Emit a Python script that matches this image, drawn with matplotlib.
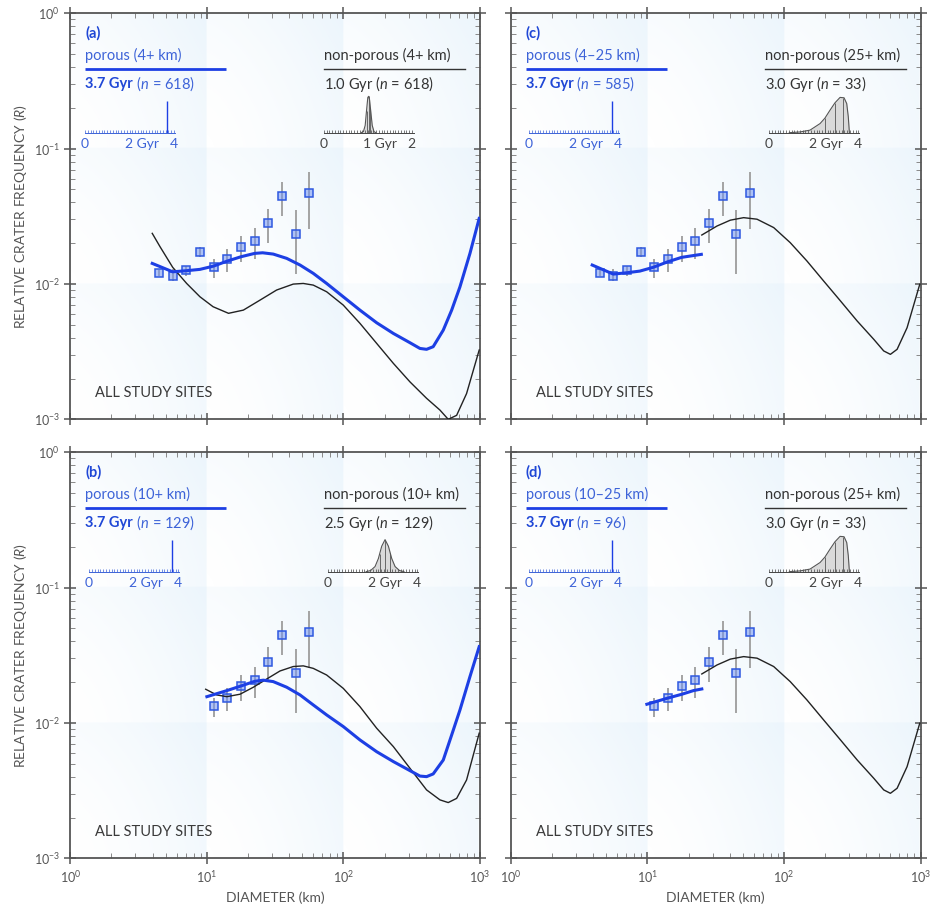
import numpy as np
import matplotlib.pyplot as plt
from matplotlib.ticker import MultipleLocator, NullFormatter

plt.rcParams['font.family'] = ['Lato', 'DejaVu Sans']
plt.rcParams['mathtext.fontset'] = 'custom'
plt.rcParams['mathtext.rm'] = 'Lato'
plt.rcParams['mathtext.it'] = 'Lato:italic'
plt.rcParams['mathtext.bf'] = 'Lato:bold'

# observed R values (all study sites), 0.1-decade bins
diam_bins = [4.47, 5.62, 7.08, 8.91, 11.2, 14.1, 17.8, 22.4, 28.2, 35.5, 44.7, 56.2]
r_obs = [0.0120, 0.0114, 0.0127, 0.0172, 0.0133, 0.0153, 0.0187, 0.0206, 0.0281, 0.0446, 0.0235, 0.0468]
r_lo = [0.0115, 0.0105, 0.0114, 0.0157, 0.0110, 0.0123, 0.0146, 0.0152, 0.0202, 0.0318, 0.0118, 0.0256]
r_hi = [0.0126, 0.0128, 0.0136, 0.0189, 0.0154, 0.0180, 0.0226, 0.0261, 0.0361, 0.0570, 0.0350, 0.0671]

# model curves
a_blue_d = [3.98, 5.62, 7.07, 8.9, 11.2, 14.1, 17.8, 22.4, 25.6, 30.6, 38.4, 48.1, 60.1, 75.3, 99.7, 132, 175,
            232, 307, 363, 406, 454, 538, 620, 713, 844, 986]
a_blue_r = [0.01419, 0.0123, 0.01253, 0.01282, 0.01356, 0.01476, 0.0159, 0.01683, 0.0170, 0.01663, 0.01546,
            0.0138, 0.01198, 0.01009, 0.00804, 0.00641, 0.00517, 0.00431, 0.00368, 0.00334, 0.00329, 0.00344,
            0.00456, 0.00641, 0.00953, 0.01683, 0.0305]
a_black_d = [3.98, 4.54, 5.62, 7.11, 8.9, 11.1, 14.4, 18.5, 24.5, 32.4, 42.9, 50.8, 60.1, 75.3, 99.7, 132, 175,
             232, 307, 406, 509, 585, 674, 797, 986]
a_black_r = [0.02366, 0.01884, 0.01327, 0.01009, 0.00804, 0.00679, 0.00607, 0.00641, 0.0076, 0.00902, 0.00998,
             0.01009, 0.00981, 0.00876, 0.00698, 0.00512, 0.00364, 0.00259, 0.00189, 0.00143, 0.00117, 0.00100,
             0.00107, 0.00155, 0.00325]

b_blue_d = [10.0, 14.0, 17.8, 22.4, 25.9, 30.6, 38.4, 48.1, 60.1, 75.3, 99.7, 132, 175, 232, 307, 363, 406,
            454, 538, 620, 713, 844, 986]
b_blue_r = [0.01563, 0.01733, 0.01876, 0.0203, 0.0207, 0.0202, 0.01836, 0.0161, 0.01358, 0.01146, 0.0094,
            0.00749, 0.00613, 0.00518, 0.00444, 0.00405, 0.00401, 0.0042, 0.00532, 0.00815, 0.01247, 0.022, 0.0366]
b_black_d = [9.8, 11.8, 14.0, 17.5, 21.9, 27.4, 34.3, 42.9, 50.8, 60.1, 75.3, 99.7, 132, 175, 232, 307, 406,
             509, 585, 674, 797, 986]
b_black_r = [0.01774, 0.0161, 0.01563, 0.0163, 0.01836, 0.0211, 0.0242, 0.0261, 0.0264, 0.0253, 0.0226, 0.018,
             0.0132, 0.00914, 0.00668, 0.00462, 0.0032, 0.0027, 0.00258, 0.00277, 0.00379, 0.0084]

c_blue_d = [3.94, 5.62, 7.06, 8.8, 11.0, 14.1, 17.8, 24.8]
c_blue_r = [0.0138, 0.01183, 0.0121, 0.01245, 0.01327, 0.01459, 0.01573, 0.01655]
d_blue_d = [9.9, 13.9, 17.9, 21.7, 25.0]
d_blue_r = [0.01374, 0.0152, 0.0163, 0.01733, 0.01782]
cd_black_d = [25.0, 32.3, 40.4, 50.6, 63.4, 84, 111, 147, 195, 259, 343, 454, 537, 601, 673, 796, 986]
cd_black_r = [0.0230, 0.0268, 0.0296, 0.0309, 0.0301, 0.0261, 0.0202, 0.0148, 0.01052, 0.00749, 0.00533,
              0.0039, 0.0032, 0.00302, 0.00329, 0.00475, 0.00995]

# age distributions (Gyr, relative height)
age_a_x = [0.85, 0.90, 0.94, 0.97, 1.00, 1.02, 1.04, 1.07, 1.10, 1.14, 1.18]
age_a_y = [0.0, 0.03, 0.2, 0.6, 0.97, 1.0, 0.9, 0.55, 0.2, 0.03, 0.0]
age_a_lines = [0.97, 1.02, 1.06]
age_b_x = [1.7, 1.9, 2.1, 2.25, 2.4, 2.55, 2.7, 2.85, 3.0, 3.2, 3.4]
age_b_y = [0.0, 0.03, 0.14, 0.36, 0.7, 0.88, 0.7, 0.36, 0.14, 0.03, 0.0]
age_b_lines = [2.31, 2.55, 2.78]
age_cd_x = [0.9, 1.38, 1.83, 2.28, 2.50, 2.73, 2.95, 3.18, 3.36, 3.48, 3.55, 3.60]
age_cd_y = [0.0, 0.02, 0.07, 0.25, 0.40, 0.62, 0.82, 0.97, 0.96, 0.80, 0.44, 0.0]
age_cd_lines = [2.50, 2.95, 3.32]
porous_age = 3.7

BLUE = '#1d3fe4'
BLUE_TXT = '#3d63d8'
BLUE_DARK = '#1f47d6'
GRAY = '#555555'

fig = plt.figure(figsize=(9.35, 9.09), dpi=100)
W, H = 0.4382, 0.4467
positions = {'a': [0.0752, 0.5387], 'c': [0.5464, 0.5387], 'b': [0.0752, 0.0558], 'd': [0.5464, 0.0558]}

panels = [
    dict(key='a', porous='porous (4+ km)', pn='618', nonp='non-porous (4+ km)', nage='1.0 Gyr', nn='618',
         blue=(a_blue_d, a_blue_r), black=(a_black_d, a_black_r), first=0,
         p0=14.7, n0=253.5, nmax=2, nlabels=('0', '1 Gyr', '2'), dist=(age_a_x, age_a_y, age_a_lines)),
    dict(key='c', porous='porous (4–25 km)', pn='585', nonp='non-porous (25+ km)', nage='3.0 Gyr', nn='33',
         blue=(c_blue_d, c_blue_r), black=(cd_black_d, cd_black_r), first=0,
         p0=18.4, n0=258.4, nmax=4, nlabels=('0', '2 Gyr', '4'), dist=(age_cd_x, age_cd_y, age_cd_lines)),
    dict(key='b', porous='porous (10+ km)', pn='129', nonp='non-porous (10+ km)', nage='2.5 Gyr', nn='129',
         blue=(b_blue_d, b_blue_r), black=(b_black_d, b_black_r), first=4,
         p0=19.0, n0=258.0, nmax=4, nlabels=('0', '2 Gyr', '4'), dist=(age_b_x, age_b_y, age_b_lines)),
    dict(key='d', porous='porous (10–25 km)', pn='96', nonp='non-porous (25+ km)', nage='3.0 Gyr', nn='33',
         blue=(d_blue_d, d_blue_r), black=(cd_black_d, cd_black_r), first=4,
         p0=18.4, n0=258.4, nmax=4, nlabels=('0', '2 Gyr', '4'), dist=(age_cd_x, age_cd_y, age_cd_lines)),
]

AX_W_PX, AX_H_PX = 409.7, 406.0


def shade(rect):
    # faint blue tint that brightens toward the right/top of every decade cell
    bg = fig.add_axes(rect, zorder=0)
    bg.set_axis_off()
    n = 300
    f = (np.linspace(0, 1, n) * 3) % 1
    U, V = np.meshgrid(f, f)
    a = 0.38 * np.clip(0.65 * U ** 1.4 + 0.35 * V ** 1.5, 0, 1)
    img = np.zeros((n, n, 4))
    img[..., 0], img[..., 1], img[..., 2] = 0.80, 0.90, 0.97
    img[..., 3] = a
    bg.imshow(img, extent=(0, 1, 0, 1), origin='lower', aspect='auto', interpolation='bilinear')
    bg.set_xlim(0, 1)
    bg.set_ylim(0, 1)


def inset(ax, x0px, xmax, labels, color, spike=None, dist=None):
    span = 89.0 if xmax == 4 else 88.0
    x0 = x0px / AX_W_PX
    w = span * (xmax + 0.05) / xmax / AX_W_PX
    ai = ax.inset_axes([x0, 1 - 119.4 / AX_H_PX, w, 40 / AX_H_PX])
    ai.set_facecolor('none')
    ai.set_xlim(0, xmax + 0.05)
    ai.set_ylim(0, 1.1)
    for s in ['top', 'left', 'right']:
        ai.spines[s].set_visible(False)
    ai.spines['bottom'].set_color(color)
    ai.spines['bottom'].set_linewidth(0.7)
    ai.set_yticks([])
    ai.set_xticks([0, xmax / 2, xmax])
    ai.xaxis.set_minor_locator(MultipleLocator(xmax / 32))
    ai.xaxis.set_major_formatter(NullFormatter())
    ai.tick_params(which='both', direction='in', length=2.0, width=0.5, color=color)
    for xv, lab in zip([0, xmax / 2, xmax], labels):
        ai.annotate(lab, xy=(xv, 0), xytext=(-3.2, -4), textcoords='offset points', ha='left', va='top',
                    fontsize=10, color=color)
    if spike is not None:
        ai.vlines(spike, 0, 0.87, color=BLUE, lw=1.0)
    if dist is not None:
        dx, dy, lines = dist
        ai.fill_between(dx, dy, color='#dadada', lw=0)
        ai.plot(dx, dy, color='#555555', lw=0.8)
        ai.vlines(lines, 0, np.interp(lines, dx, dy), color='#555555', lw=0.6)


for p in panels:
    left, bottom = positions[p['key']]
    rect = [left, bottom, W, H]
    shade(rect)
    ax = fig.add_axes(rect, zorder=1)
    ax.set_facecolor('none')
    ax.set_xscale('log')
    ax.set_yscale('log')
    ax.set_xlim(1, 1000)
    ax.set_ylim(1e-3, 1)
    for s in ax.spines.values():
        s.set_color(GRAY)
        s.set_linewidth(1.3)
    ax.tick_params(which='major', direction='inout', length=8, width=1.1, color=GRAY,
                   top=True, right=True, labelsize=9, labelcolor='#555555')
    ax.tick_params(which='minor', direction='in', length=3.5, width=0.7, color='#888888', top=True, right=True)
    ax.yaxis.set_minor_formatter(NullFormatter())
    ax.xaxis.set_minor_formatter(NullFormatter())
    if p['key'] in ('a', 'c'):
        ax.tick_params(labelbottom=False)
    if p['key'] in ('c', 'd'):
        ax.tick_params(labelleft=False)

    k = p['first']
    d = np.array(diam_bins[k:])
    ax.vlines(d, r_lo[k:], r_hi[k:], color='#a3a3a3', lw=1.4, zorder=3)
    ax.plot(d, r_obs[k:], 's', ms=6.3, mfc=(0.45, 0.58, 0.95, 0.55), mec='#2e58e0', mew=1.1, zorder=4)
    ax.plot(*p['black'], color='#222222', lw=1.0, zorder=5)
    ax.plot(*p['blue'], color=BLUE, lw=2.2, zorder=6)

    tx = 14.7 / AX_W_PX
    nx = 254.0 / AX_W_PX
    ax.text(tx, 0.951, '(' + p['key'] + ')', transform=ax.transAxes, fontsize=10.5, fontweight='bold',
            color=BLUE_DARK, va='center')
    ax.text(tx, 0.896, p['porous'], transform=ax.transAxes, fontsize=10.5, color=BLUE_TXT, va='center')
    ax.plot([tx, tx + 141 / AX_W_PX], [0.862, 0.862], transform=ax.transAxes, color=BLUE, lw=2.0,
            solid_capstyle='butt')
    t1 = ax.text(tx, 0.826, '3.7 Gyr', transform=ax.transAxes, fontsize=10.5, fontweight='bold',
                 color=BLUE_DARK, va='center')
    ax.annotate(r' ($\mathit{n}$ = ' + p['pn'] + ')', xy=(1, 0.5), xycoords=t1, va='center',
                fontsize=10.5, color=BLUE_TXT)
    ax.text(nx, 0.896, p['nonp'], transform=ax.transAxes, fontsize=10.5, color='#333333', va='center')
    ax.plot([nx, nx + 141 / AX_W_PX], [0.862, 0.862], transform=ax.transAxes, color='#333333', lw=1.0)
    ax.text(nx, 0.826, p['nage'] + r' ($\mathit{n}$ = ' + p['nn'] + ')', transform=ax.transAxes,
            fontsize=10.5, color='#333333', va='center')
    ax.text(24.7 / AX_W_PX, 0.064, 'ALL STUDY SITES', transform=ax.transAxes, fontsize=10.5,
            color='#3a3a3a', va='center')

    inset(ax, p['p0'], 4, ('0', '2 Gyr', '4'), BLUE_TXT, spike=porous_age)
    inset(ax, p['n0'], p['nmax'], p['nlabels'], '#444444', dist=p['dist'])

for yc in (0.5387 + H / 2, 0.0558 + H / 2):
    fig.text(0.022, yc, r'RELATIVE CRATER FREQUENCY ($\mathit{R}$)', rotation=90, ha='center', va='center',
             fontsize=10, color='#555555')
for xc in (0.0752 + W / 2, 0.5464 + W / 2):
    fig.text(xc, 0.012, 'DIAMETER (km)', ha='center', va='center', fontsize=10, color='#555555')

fig.savefig('out.png', dpi=100)
